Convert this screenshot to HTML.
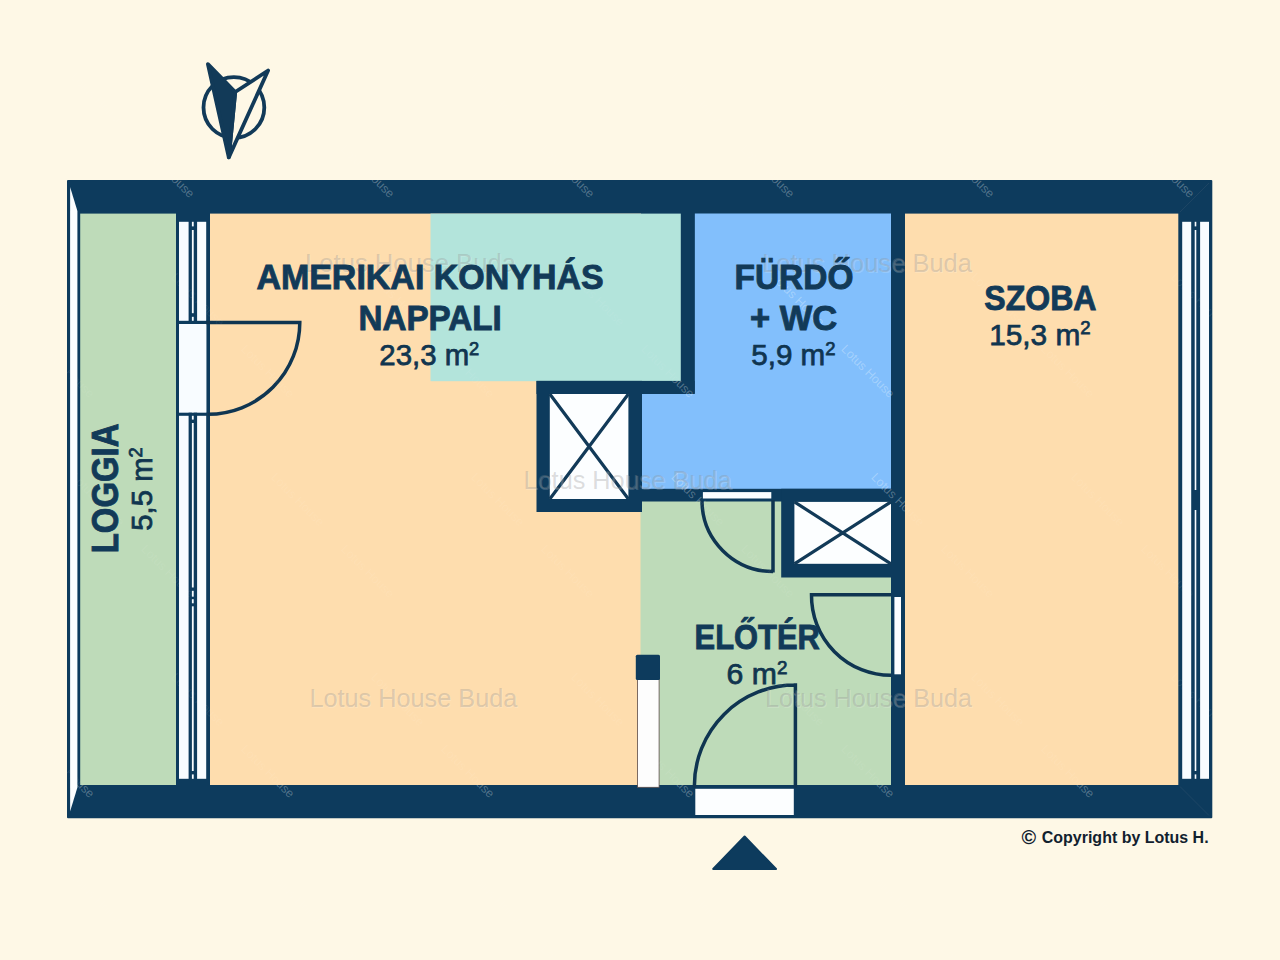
<!DOCTYPE html>
<html><head><meta charset="utf-8">
<style>
html,body{margin:0;padding:0;background:#fef8e6;}
body{width:1280px;height:960px;overflow:hidden;font-family:"Liberation Sans",sans-serif;}
svg{display:block;}
text{font-family:"Liberation Sans",sans-serif;}
.b{font-weight:bold;fill:#123a58;stroke:#123a58;stroke-width:.9px;font-size:35px;}
.r{font-weight:normal;fill:#10354f;stroke:#10354f;stroke-width:.75px;font-size:29.8px;}
.sup{font-size:18.6px;}
.wm{fill:#8c8c8c;fill-opacity:.3;font-size:26px;}
.wmh{fill:#ffffff;fill-opacity:.18;font-size:26px;}
.dw{fill:#ffffff;fill-opacity:.07;font-size:12.3px;}
.dw2{fill:#ffffff;fill-opacity:.24;font-size:12.3px;}
</style></head><body>
<svg width="1280" height="960" viewBox="0 0 1280 960">
<rect width="1280" height="960" fill="#fef8e6"/>
<!-- outer walls -->
<rect x="67" y="180" width="1145.3" height="638.2" rx="1" fill="#0d3b5d"/>
<!-- rooms -->
<rect x="80.2" y="213.6" width="95.8" height="571.4" fill="#bedbb9"/>
<rect x="210" y="213.6" width="431" height="571.4" fill="#feddae"/>
<rect x="640.5" y="501" width="250.5" height="284" fill="#bedbb9"/>
<rect x="430.5" y="213.6" width="251" height="167.6" fill="#b3e4db"/>
<polygon points="694.6,213.6 891,213.6 891,489 641.5,489 641.5,393 694.6,393" fill="#82bffc"/>
<rect x="904.9" y="213.6" width="273.4" height="571.4" fill="#feddae"/>
<!-- inner walls -->
<g fill="#0d3b5d">
<rect x="680.8" y="213" width="13.8" height="181"/>
<rect x="536.5" y="380.9" width="158.1" height="13.1"/>
<rect x="536.5" y="380.9" width="105.5" height="131.1"/>
<rect x="641" y="488.8" width="251" height="12.7"/>
<rect x="781.2" y="488.8" width="111" height="88.7"/>
<rect x="891" y="213" width="13.9" height="573"/>
</g>
<!-- shafts -->
<rect x="549.8" y="394" width="78.6" height="105" fill="#fcfeff"/>
<path d="M549.8 394L628.4 499M628.4 394L549.8 499" stroke="#123a58" stroke-width="3.2" fill="none"/>
<rect x="794.4" y="501.9" width="96.6" height="61.9" fill="#fcfeff"/>
<path d="M794.4 501.9L891 563.8M891 501.9L794.4 563.8" stroke="#123a58" stroke-width="3.2" fill="none"/>
<!-- loggia railing -->
<polygon points="70.1,187 77.4,211 77.4,787.5 70.1,811.4" fill="#fcfeff"/>
<!-- left window -->
<g fill="#f8fcff">
<rect x="179" y="221.8" width="9.6" height="557"/>
<rect x="197.1" y="221.8" width="9.1" height="557"/>
<rect x="191.9" y="221.8" width="1.8" height="557"/>
<rect x="179" y="324" width="27.3" height="88.7"/>
</g>
<g fill="#0d3b5d">
<rect x="176" y="320.8" width="34" height="3.2"/>
<rect x="176" y="412.7" width="34" height="3.1"/>
<rect x="191" y="226.4" width="4" height="3.6"/>
<rect x="191" y="313.2" width="4" height="3.6"/>
<rect x="191" y="419.6" width="4" height="3.4"/>
<rect x="191" y="771" width="4" height="3.4"/>
<rect x="191" y="587.5" width="4" height="3.3"/>
<rect x="191" y="596.7" width="4" height="2.5"/>
<rect x="191" y="603.3" width="4" height="3"/>
</g>
<!-- right window -->
<g fill="#f8fcff">
<rect x="1182.2" y="221.8" width="9" height="557"/>
<rect x="1200.1" y="221.8" width="8.9" height="557"/>
<rect x="1194.7" y="221.8" width="1.6" height="557"/>
</g>
<g fill="#0d3b5d">
<rect x="1194" y="226.4" width="4" height="3.6"/>
<rect x="1194" y="771" width="4" height="3.4"/>
<rect x="1194" y="490" width="4" height="20"/>
</g>
<!-- door openings -->
<rect x="702.9" y="492.1" width="68.4" height="6.4" fill="#fcfeff"/>
<rect x="894.4" y="597" width="6.6" height="77.3" fill="#fcfeff"/>
<rect x="695.3" y="788.8" width="98.5" height="26.2" fill="#fcfeff"/>
<!-- pillar -->
<rect x="637.6" y="679" width="21.5" height="108.3" fill="#fdfdfd" stroke="#5b4a48" stroke-width=".8"/>
<rect x="635.8" y="654.7" width="24.2" height="25.3" rx="1.5" fill="#0d3b5d"/>
<!-- doors -->
<g fill="none" stroke="#0f3551" stroke-width="3.5">
<path d="M206 322.4H299.8A91.85 91.85 0 0 1 208 414.25"/>
<path d="M773 500V572.5M773 571.5A71 71 0 0 1 702 500.5"/>
<path d="M891 594.8H811.5A79.5 79.5 0 0 0 891 675.3"/>
<path d="M795.4 786V685M795.4 685A100.7 100.7 0 0 0 694.4 785.7" stroke-linecap="square"/>
</g>
<!-- entry arrow -->
<polygon points="744.6,836.5 776,869 713.2,869" fill="#0d3b5d" stroke="#0d3b5d" stroke-width="2" stroke-linejoin="round"/>
<!-- compass -->
<g stroke="#123a58" stroke-width="3.8" stroke-linejoin="round">
<circle cx="233.9" cy="107.5" r="30.4" fill="none"/>
<polygon points="268.1,70.5 235.2,92 228.8,157.4" fill="#fef8e6"/>
<polygon points="207.9,64.2 235.2,92 228.8,157.4" fill="#123a58"/>
</g>
<path d="M1180 212L1209 183M1180 786.5L1209 815.5" stroke="#3c5874" stroke-width=".6" fill="none" opacity=".6"/>
<!-- watermarks -->
<g class="wmh" transform="translate(1,1)">
<text x="305" y="271.5" textLength="211" lengthAdjust="spacingAndGlyphs">Lotus House Buda</text>
<text x="762" y="271.5" textLength="210" lengthAdjust="spacingAndGlyphs">Lotus House Buda</text>
<text x="523.5" y="489.3" textLength="208" lengthAdjust="spacingAndGlyphs">Lotus House Buda</text>
<text x="309.4" y="707" textLength="208" lengthAdjust="spacingAndGlyphs">Lotus House Buda</text>
<text x="765" y="707" textLength="207" lengthAdjust="spacingAndGlyphs">Lotus House Buda</text>
</g>
<g class="wm">
<text x="305" y="271.5" textLength="211" lengthAdjust="spacingAndGlyphs">Lotus House Buda</text>
<text x="762" y="271.5" textLength="210" lengthAdjust="spacingAndGlyphs">Lotus House Buda</text>
<text x="523.5" y="489.3" textLength="208" lengthAdjust="spacingAndGlyphs">Lotus House Buda</text>
<text x="309.4" y="707" textLength="208" lengthAdjust="spacingAndGlyphs">Lotus House Buda</text>
<text x="765" y="707" textLength="207" lengthAdjust="spacingAndGlyphs">Lotus House Buda</text>
</g>
<defs><clipPath id="cw"><rect x="67" y="180" width="1145.3" height="33.6"/><rect x="67" y="785" width="1145.3" height="33.2"/><rect x="891" y="213" width="13.9" height="573"/><rect x="680.8" y="213" width="13.8" height="181"/><rect x="536.5" y="380.9" width="158.1" height="13.1"/><rect x="641" y="488.8" width="251" height="12.7"/><polygon points="694.6,213.6 891,213.6 891,489 641.5,489 641.5,393 694.6,393"/></clipPath><g id="dg">
<text transform="translate(40.6,-50.2) rotate(45)">Lotus House</text>
<text transform="translate(40.6,349.8) rotate(45)">Lotus House</text>
<text transform="translate(40.6,749.8) rotate(45)">Lotus House</text>
<text transform="translate(240.6,-50.2) rotate(45)">Lotus House</text>
<text transform="translate(240.6,349.8) rotate(45)">Lotus House</text>
<text transform="translate(240.6,749.8) rotate(45)">Lotus House</text>
<text transform="translate(440.6,-50.2) rotate(45)">Lotus House</text>
<text transform="translate(440.6,349.8) rotate(45)">Lotus House</text>
<text transform="translate(440.6,749.8) rotate(45)">Lotus House</text>
<text transform="translate(640.6,-50.2) rotate(45)">Lotus House</text>
<text transform="translate(640.6,349.8) rotate(45)">Lotus House</text>
<text transform="translate(640.6,749.8) rotate(45)">Lotus House</text>
<text transform="translate(840.6,-50.2) rotate(45)">Lotus House</text>
<text transform="translate(840.6,349.8) rotate(45)">Lotus House</text>
<text transform="translate(840.6,749.8) rotate(45)">Lotus House</text>
<text transform="translate(1040.6,-50.2) rotate(45)">Lotus House</text>
<text transform="translate(1040.6,349.8) rotate(45)">Lotus House</text>
<text transform="translate(1040.6,749.8) rotate(45)">Lotus House</text>
<text transform="translate(1240.6,-50.2) rotate(45)">Lotus House</text>
<text transform="translate(1240.6,349.8) rotate(45)">Lotus House</text>
<text transform="translate(1240.6,749.8) rotate(45)">Lotus House</text>
<text transform="translate(-59.4,149.8) rotate(45)">Lotus House</text>
<text transform="translate(-59.4,549.8) rotate(45)">Lotus House</text>
<text transform="translate(-59.4,949.8) rotate(45)">Lotus House</text>
<text transform="translate(140.6,149.8) rotate(45)">Lotus House</text>
<text transform="translate(140.6,549.8) rotate(45)">Lotus House</text>
<text transform="translate(140.6,949.8) rotate(45)">Lotus House</text>
<text transform="translate(340.6,149.8) rotate(45)">Lotus House</text>
<text transform="translate(340.6,549.8) rotate(45)">Lotus House</text>
<text transform="translate(340.6,949.8) rotate(45)">Lotus House</text>
<text transform="translate(540.6,149.8) rotate(45)">Lotus House</text>
<text transform="translate(540.6,549.8) rotate(45)">Lotus House</text>
<text transform="translate(540.6,949.8) rotate(45)">Lotus House</text>
<text transform="translate(740.6,149.8) rotate(45)">Lotus House</text>
<text transform="translate(740.6,549.8) rotate(45)">Lotus House</text>
<text transform="translate(740.6,949.8) rotate(45)">Lotus House</text>
<text transform="translate(940.6,149.8) rotate(45)">Lotus House</text>
<text transform="translate(940.6,549.8) rotate(45)">Lotus House</text>
<text transform="translate(940.6,949.8) rotate(45)">Lotus House</text>
<text transform="translate(1140.6,149.8) rotate(45)">Lotus House</text>
<text transform="translate(1140.6,549.8) rotate(45)">Lotus House</text>
<text transform="translate(1140.6,949.8) rotate(45)">Lotus House</text>
<text transform="translate(70.5,78) rotate(45)">Lotus House</text>
<text transform="translate(70.5,478) rotate(45)">Lotus House</text>
<text transform="translate(70.5,878) rotate(45)">Lotus House</text>
<text transform="translate(270.5,78) rotate(45)">Lotus House</text>
<text transform="translate(270.5,478) rotate(45)">Lotus House</text>
<text transform="translate(270.5,878) rotate(45)">Lotus House</text>
<text transform="translate(470.5,78) rotate(45)">Lotus House</text>
<text transform="translate(470.5,478) rotate(45)">Lotus House</text>
<text transform="translate(470.5,878) rotate(45)">Lotus House</text>
<text transform="translate(670.5,78) rotate(45)">Lotus House</text>
<text transform="translate(670.5,478) rotate(45)">Lotus House</text>
<text transform="translate(670.5,878) rotate(45)">Lotus House</text>
<text transform="translate(870.5,78) rotate(45)">Lotus House</text>
<text transform="translate(870.5,478) rotate(45)">Lotus House</text>
<text transform="translate(870.5,878) rotate(45)">Lotus House</text>
<text transform="translate(1070.5,78) rotate(45)">Lotus House</text>
<text transform="translate(1070.5,478) rotate(45)">Lotus House</text>
<text transform="translate(1070.5,878) rotate(45)">Lotus House</text>
<text transform="translate(1270.5,78) rotate(45)">Lotus House</text>
<text transform="translate(1270.5,478) rotate(45)">Lotus House</text>
<text transform="translate(1270.5,878) rotate(45)">Lotus House</text>
<text transform="translate(-29.5,278) rotate(45)">Lotus House</text>
<text transform="translate(-29.5,678) rotate(45)">Lotus House</text>
<text transform="translate(170.5,278) rotate(45)">Lotus House</text>
<text transform="translate(170.5,678) rotate(45)">Lotus House</text>
<text transform="translate(370.5,278) rotate(45)">Lotus House</text>
<text transform="translate(370.5,678) rotate(45)">Lotus House</text>
<text transform="translate(570.5,278) rotate(45)">Lotus House</text>
<text transform="translate(570.5,678) rotate(45)">Lotus House</text>
<text transform="translate(770.5,278) rotate(45)">Lotus House</text>
<text transform="translate(770.5,678) rotate(45)">Lotus House</text>
<text transform="translate(970.5,278) rotate(45)">Lotus House</text>
<text transform="translate(970.5,678) rotate(45)">Lotus House</text>
<text transform="translate(1170.5,278) rotate(45)">Lotus House</text>
<text transform="translate(1170.5,678) rotate(45)">Lotus House</text>
</g></defs>
<use href="#dg" class="dw"/>
<g clip-path="url(#cw)"><use href="#dg" class="dw2"/></g>
<!-- labels -->
<text class="b" x="256.4" y="289" textLength="347.2" lengthAdjust="spacingAndGlyphs">AMERIKAI KONYHÁS</text>
<text class="b" x="358.4" y="329.9" textLength="143.4" lengthAdjust="spacingAndGlyphs">NAPPALI</text>
<text class="r" x="379.3" y="365.1" textLength="100" lengthAdjust="spacingAndGlyphs">23,3 m<tspan class="sup" dy="-10.2">2</tspan></text>
<text class="b" x="734.5" y="289.3" textLength="119" lengthAdjust="spacingAndGlyphs">FÜRDŐ</text>
<text class="b" x="750" y="329.9" textLength="87.3" lengthAdjust="spacingAndGlyphs">+ WC</text>
<text class="r" x="751.2" y="365.2" textLength="84.4" lengthAdjust="spacingAndGlyphs">5,9 m<tspan class="sup" dy="-10.2">2</tspan></text>
<text class="b" x="984.3" y="309.6" textLength="112.2" lengthAdjust="spacingAndGlyphs">SZOBA</text>
<text class="r" x="989.2" y="344.6" textLength="101.4" lengthAdjust="spacingAndGlyphs">15,3 m<tspan class="sup" dy="-10.2">2</tspan></text>
<text class="b" x="694.6" y="648.8" textLength="125.2" lengthAdjust="spacingAndGlyphs">ELŐTÉR</text>
<text class="r" x="726.6" y="684.2" textLength="60.8" lengthAdjust="spacingAndGlyphs">6 m<tspan class="sup" dy="-10.2">2</tspan></text>
<g transform="translate(118.3,553.2) rotate(-90)"><text class="b" style="font-size:37.4px" x="0" y="0" textLength="129.6" lengthAdjust="spacingAndGlyphs">LOGGIA</text></g>
<g transform="translate(151.9,530.7) rotate(-90)"><text class="r" x="0" y="0" textLength="83.4" lengthAdjust="spacingAndGlyphs">5,5 m<tspan class="sup" dy="-10.2">2</tspan></text></g>
<text x="1021.6" y="843.6" font-size="19.5" font-weight="bold" fill="#11212e" textLength="14.6" lengthAdjust="spacingAndGlyphs">©</text>
<text x="1041.8" y="842.9" font-size="17.4" font-weight="bold" fill="#11212e" textLength="166.8" lengthAdjust="spacingAndGlyphs">Copyright by Lotus H.</text>
</svg>
</body></html>
